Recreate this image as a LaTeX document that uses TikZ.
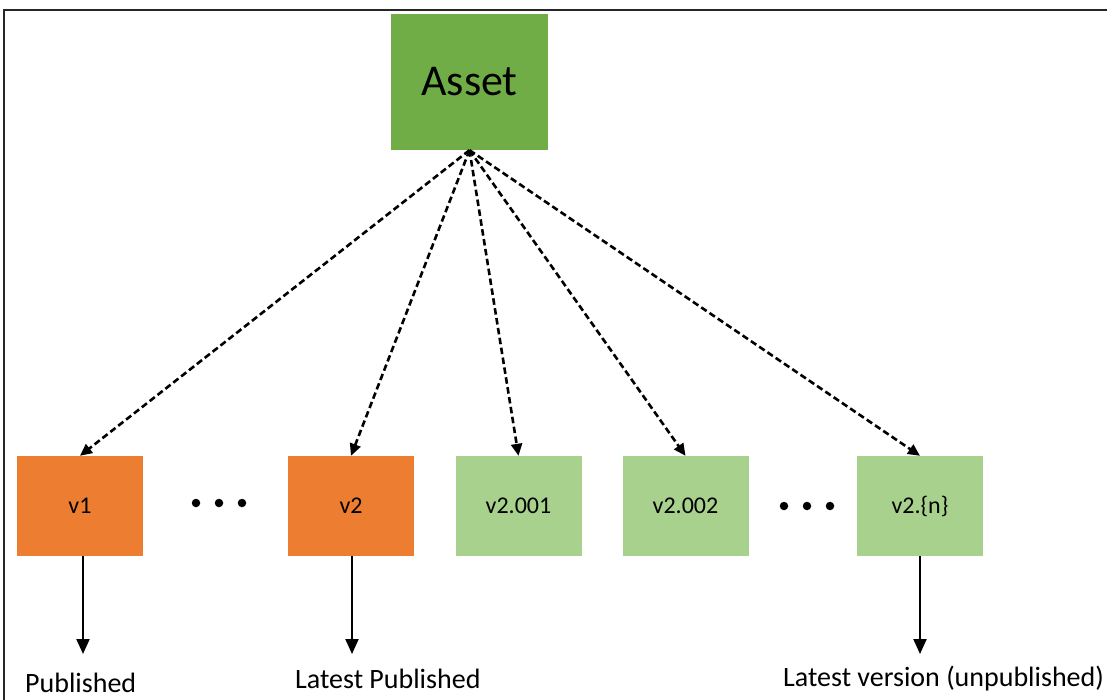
\documentclass[tikz,border=0pt]{standalone}
\usepackage{fontspec}
\setmainfont{Carlito}
\usetikzlibrary{arrows.meta}
\definecolor{assetgreen}{HTML}{70AD47}
\definecolor{pubor}{HTML}{ED7D31}
\definecolor{draftgreen}{HTML}{A9D18E}
\begin{document}
\begin{tikzpicture}[x=1pt,y=-1pt,
  verbox/.style={minimum width=126pt,minimum height=100pt,inner sep=0pt,font=\fontsize{24}{28}\selectfont},
  pubbox/.style={verbox,fill=pubor},
  draftbox/.style={verbox,fill=draftgreen},
  link/.style={dash pattern=on 6.5pt off 3.5pt,line width=2.6pt,-{Triangle[length=12pt,width=11pt]}},
  state/.style={line width=2.2pt,-{Triangle[length=15pt,width=13pt]}},
  caption/.style={font=\fontsize{28}{32}\selectfont,anchor=base west,inner sep=0pt},
  dot/.style={circle,fill=black,inner sep=0pt,minimum size=8.5pt}]
\useasboundingbox (0,0) rectangle (1107,700);
% frame edges
\draw[line width=1.5pt,black!85] (4,700) -- (4,10) -- (1107,10);

\node[fill=assetgreen,minimum width=157pt,minimum height=136pt,inner sep=0pt,
      font=\fontsize{44}{50}\selectfont] (asset) at (469.5,82) {\raisebox{-2pt}{Asset}};

\node[pubbox] (v1) at (80,506) {v1};
\node[pubbox] (v2) at (351,506) {v2};
\node[draftbox] (v2a) at (518.5,506) {v2.001};
\node[draftbox] (v2b) at (685.5,506) {v2.002};
\node[draftbox] (v2n) at (920,506) {v2.\{n\}};

% ellipses between boxes
\node[dot] (d1) at (196,503) {};
\node[dot] (d2) at (219,503) {};
\node[dot] (d3) at (242,503) {};
\node[dot] (e1) at (784,506) {};
\node[dot] (e2) at (807,506) {};
\node[dot] (e3) at (830,506) {};

\coordinate (src) at (asset.south);
\foreach \t in {v1,v2,v2a,v2b,v2n}
  \draw[link] (src) -- (\t.north);

\coordinate (p1) at (83,654);
\coordinate (p2) at (352,654);
\coordinate (p3) at (920,654);
\draw[state] (v1.south -| p1) -- (p1);
\draw[state] (v2.south -| p2) -- (p2);
\draw[state] (v2n.south -| p3) -- (p3);

\node[caption] (c1) at (25,692) {Published};
\node[caption] (c2) at (295,688) {Latest Published};
\node[caption] (c3) at (783,686) {Latest version (unpublished)};
\end{tikzpicture}
\end{document}
